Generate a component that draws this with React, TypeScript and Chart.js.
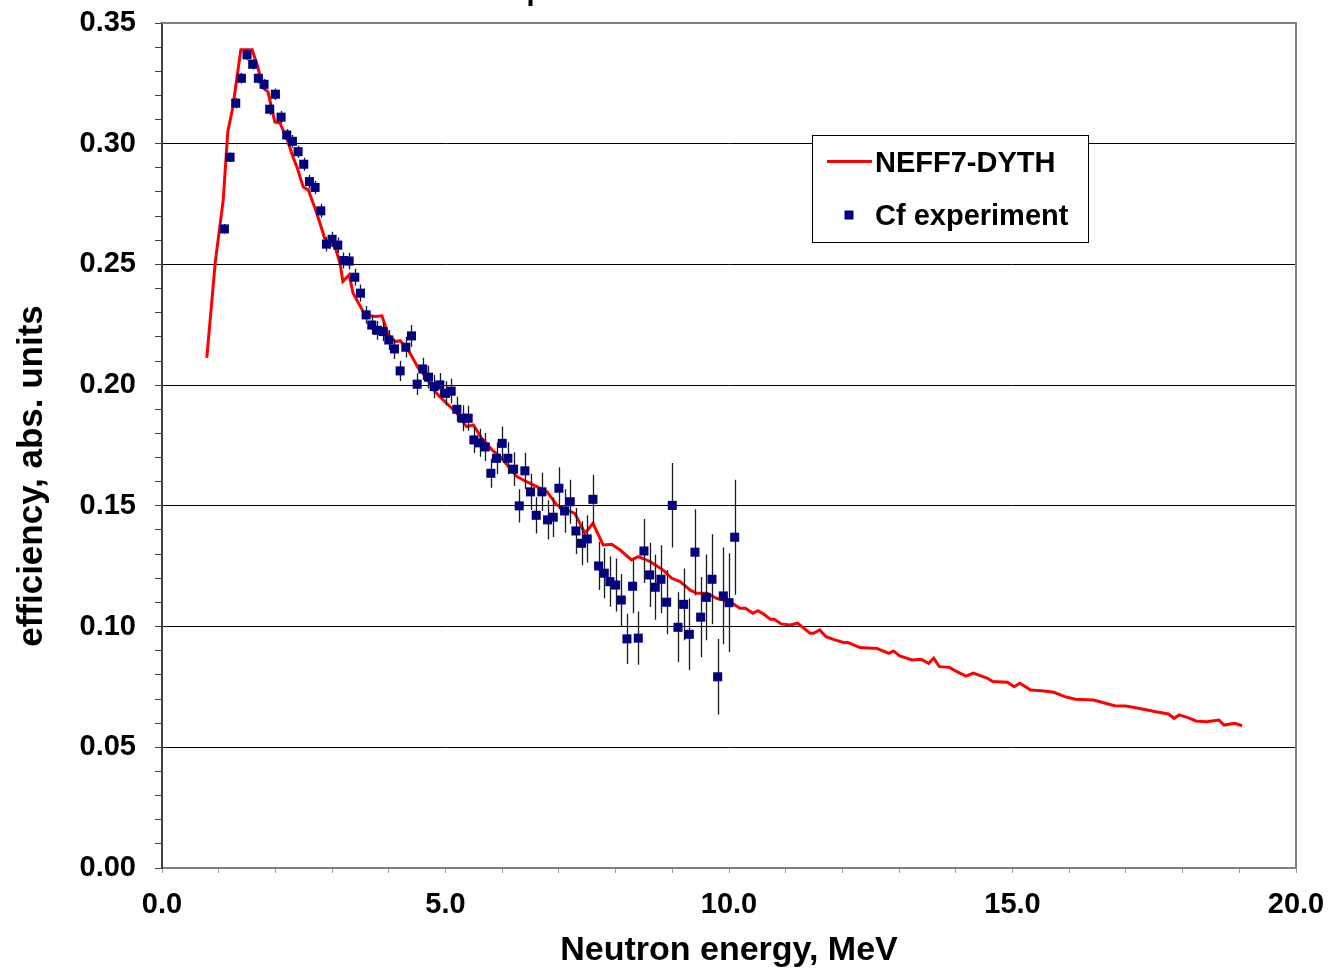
import React, { useEffect, useRef } from "react";
import { Chart, registerables } from "chart.js";

Chart.register(...registerables);

const FONT = '"Liberation Sans", Arial, Helvetica, sans-serif';
const TITLE = "Experiment and calculation";
const X_TITLE = "Neutron energy, MeV";
const Y_TITLE = "efficiency, abs. units";
const CALC_LABEL = "NEFF7-DYTH";
const EXP_LABEL = "Cf experiment";

// NEFF7-DYTH calculation (MeV, efficiency)
const calcEnergy = [
  0.79, 0.94, 1.08, 1.16, 1.25, 1.39, 1.59, 1.69, 1.78, 1.87,
  1.99, 2.08, 2.21, 2.31, 2.38, 2.49, 2.58, 2.73, 2.88, 2.99,
  3.05, 3.14, 3.19, 3.30, 3.37, 3.58, 3.76, 3.88, 3.99, 4.11,
  4.20, 4.34, 4.52, 4.67, 4.79, 4.90, 5.20, 5.37, 5.49, 5.64,
  5.82, 5.96, 6.26, 6.43, 6.61, 6.79, 6.96, 7.08, 7.28, 7.46,
  7.60, 7.78, 7.93, 8.08, 8.28, 8.40, 8.61, 8.84, 8.99, 9.14,
  9.31, 9.43, 9.61, 9.78, 10.02, 10.19, 10.29, 10.42, 10.51, 10.61,
  10.73, 10.80, 10.92, 11.08, 11.21, 11.43, 11.49, 11.60, 11.71, 11.84,
  12.03, 12.09, 12.31, 12.53, 12.60, 12.82, 12.90, 13.01, 13.23, 13.39,
  13.52, 13.61, 13.71, 13.89, 14.02, 14.18, 14.31, 14.56, 14.65, 14.91,
  15.03, 15.13, 15.32, 15.51, 15.73, 15.92, 16.11, 16.43, 16.80, 17.00,
  17.22, 17.53, 17.75, 17.85, 17.94, 18.13, 18.23, 18.42, 18.64, 18.73,
  18.92, 19.05,
];
const calcEff = [
  0.2113, 0.2510, 0.2767, 0.3049, 0.3152, 0.3389, 0.3389, 0.3318, 0.3231, 0.3215,
  0.3090, 0.3086, 0.3016, 0.2945, 0.2904, 0.2821, 0.2809, 0.2712, 0.2601, 0.2581,
  0.2574, 0.2505, 0.2429, 0.2457, 0.2381, 0.2291, 0.2284, 0.2287, 0.2208, 0.2180,
  0.2184, 0.2146, 0.2070, 0.2029, 0.1980, 0.1952, 0.1884, 0.1828, 0.1835, 0.1780,
  0.1732, 0.1704, 0.1621, 0.1600, 0.1580, 0.1559, 0.1504, 0.1490, 0.1469, 0.1387,
  0.1428, 0.1338, 0.1341, 0.1317, 0.1276, 0.1290, 0.1269, 0.1234, 0.1200, 0.1186,
  0.1152, 0.1138, 0.1138, 0.1117, 0.1103, 0.1076, 0.1076, 0.1055, 0.1066, 0.1052,
  0.1030, 0.1030, 0.1011, 0.1007, 0.1014, 0.0972, 0.0972, 0.0986, 0.0958, 0.0947,
  0.0933, 0.0935, 0.0913, 0.0910, 0.0910, 0.0889, 0.0899, 0.0878, 0.0862, 0.0865,
  0.0848, 0.0869, 0.0834, 0.0831, 0.0813, 0.0795, 0.0807, 0.0786, 0.0772, 0.0769,
  0.0751, 0.0765, 0.0737, 0.0734, 0.0728, 0.0710, 0.0699, 0.0696, 0.0672, 0.0671,
  0.0662, 0.0647, 0.0638, 0.0620, 0.0634, 0.0620, 0.0609, 0.0606, 0.0613, 0.0592,
  0.0599, 0.0589,
];

// Cf experiment (MeV, efficiency, error)
const expEnergy = [
  1.1, 1.2, 1.3, 1.4, 1.5, 1.6, 1.7, 1.8, 1.9, 2.0,
  2.1, 2.2, 2.3, 2.4, 2.5, 2.6, 2.7, 2.8, 2.9, 3.0,
  3.1, 3.2, 3.3, 3.4, 3.5, 3.6, 3.7, 3.8, 3.9, 4.0,
  4.1, 4.2, 4.3, 4.4, 4.5, 4.6, 4.7, 4.8, 4.9, 5.0,
  5.1, 5.2, 5.3, 5.4, 5.5, 5.6, 5.7, 5.8, 5.9, 6.0,
  6.1, 6.2, 6.3, 6.4, 6.5, 6.6, 6.7, 6.8, 6.9, 7.0,
  7.1, 7.2, 7.3, 7.4, 7.5, 7.6, 7.7, 7.8, 7.9, 8.0,
  8.1, 8.2, 8.3, 8.4, 8.5, 8.6, 8.7, 8.8, 8.9, 9.0,
  9.1, 9.2, 9.3, 9.4, 9.5, 9.6, 9.7, 9.8, 9.9, 10.0,
  10.1,
];
const expEff = [
  0.2647, 0.2944, 0.3168, 0.3271, 0.3368, 0.3329, 0.3271, 0.3246, 0.3143, 0.3205,
  0.3110, 0.3036, 0.3010, 0.2967, 0.2915, 0.2843, 0.2819, 0.2722, 0.2584, 0.2604,
  0.2580, 0.2516, 0.2514, 0.2447, 0.2381, 0.2291, 0.2249, 0.2227, 0.2222, 0.2187,
  0.2150, 0.2059, 0.2157, 0.2204, 0.2004, 0.2067, 0.2033, 0.1994, 0.2001, 0.1966,
  0.1975, 0.1900, 0.1863, 0.1863, 0.1773, 0.1761, 0.1744, 0.1635, 0.1697, 0.1759,
  0.1697, 0.1652, 0.1500, 0.1645, 0.1558, 0.1461, 0.1558, 0.1442, 0.1453, 0.1573,
  0.1479, 0.1517, 0.1396, 0.1345, 0.1363, 0.1527, 0.1251, 0.1221, 0.1186, 0.1172,
  0.1110, 0.0949, 0.1167, 0.0952, 0.1313, 0.1214, 0.1163, 0.1196, 0.1101, 0.1502,
  0.0997, 0.1092, 0.0968, 0.1308, 0.1039, 0.1121, 0.1196, 0.0792, 0.1127, 0.1099,
  0.1370,
];
const expErr = [
  0.0020, 0.0020, 0.0022, 0.0022, 0.0022, 0.0022, 0.0022, 0.0022, 0.0024, 0.0024,
  0.0025, 0.0025, 0.0026, 0.0026, 0.0027, 0.0028, 0.0028, 0.0029, 0.0030, 0.0031,
  0.0032, 0.0033, 0.0034, 0.0035, 0.0036, 0.0037, 0.0038, 0.0039, 0.0040, 0.0041,
  0.0042, 0.0042, 0.0043, 0.0045, 0.0045, 0.0046, 0.0047, 0.0048, 0.0049, 0.0050,
  0.0051, 0.0052, 0.0054, 0.0052, 0.0054, 0.0058, 0.0058, 0.0060, 0.0065, 0.0070,
  0.0066, 0.0070, 0.0069, 0.0075, 0.0075, 0.0075, 0.0079, 0.0081, 0.0082, 0.0087,
  0.0090, 0.0091, 0.0095, 0.0091, 0.0098, 0.0102, 0.0100, 0.0104, 0.0104, 0.0110,
  0.0108, 0.0104, 0.0112, 0.0110, 0.0133, 0.0133, 0.0135, 0.0141, 0.0133, 0.0175,
  0.0145, 0.0149, 0.0149, 0.0178, 0.0166, 0.0178, 0.0186, 0.0157, 0.0200, 0.0205,
  0.0238,
];

const X_MIN = 0;
const X_MAX = 20;
const X_STEP = 1;
const X_LABEL_EVERY = 5;
const Y_MIN = 0;
const Y_MAX = 0.35;
const Y_STEP = 0.01;
const Y_LABEL_EVERY = 0.05;

const isMultiple = (v: number, m: number) => Math.abs(v / m - Math.round(v / m)) < 1e-6;

const zeroPadding = (s: any) => {
  s.paddingTop = 0;
  s.paddingBottom = 0;
  s.paddingLeft = 0;
  s.paddingRight = 0;
};

export default function App() {
  const ref = useRef<HTMLCanvasElement>(null);

  useEffect(() => {
    const canvas = ref.current;
    if (!canvas) return;

    const calcData = calcEnergy.map((x, i) => ({ x, y: calcEff[i] }));
    const expData = expEnergy.map((x, i) => ({ x, y: expEff[i] }));

    const errorBars = {
      id: "errorBars",
      beforeDatasetDraw(chart: any, args: any) {
        if (args.index !== 1) return;
        const { ctx } = chart;
        const xs = chart.scales.x;
        const ys = chart.scales.y;
        ctx.save();
        ctx.strokeStyle = "#1a1a1a";
        ctx.lineWidth = 1.3;
        ctx.beginPath();
        expEnergy.forEach((e, i) => {
          const px = Math.round(xs.getPixelForValue(e)) + 0.5;
          ctx.moveTo(px, ys.getPixelForValue(expEff[i] + expErr[i]));
          ctx.lineTo(px, ys.getPixelForValue(expEff[i] - expErr[i]));
        });
        ctx.stroke();
        ctx.restore();
      },
    };

    const decor = {
      id: "decor",
      afterDraw(chart: any) {
        const { ctx } = chart;
        const { left, right, top, bottom } = chart.chartArea;
        ctx.save();
        // top and right frame
        ctx.strokeStyle = "#808080";
        ctx.lineWidth = 2;
        ctx.beginPath();
        ctx.moveTo(left, top);
        ctx.lineTo(right, top);
        ctx.lineTo(right, bottom);
        ctx.stroke();

        // axis titles
        ctx.fillStyle = "#000";
        ctx.textAlign = "center";
        ctx.textBaseline = "alphabetic";
        ctx.font = `bold 34px ${FONT}`;
        ctx.fillText(X_TITLE, (left + right) / 2, 960);
        ctx.save();
        ctx.translate(42, 476);
        ctx.rotate(-Math.PI / 2);
        ctx.font = `bold 35px ${FONT}`;
        ctx.fillText(Y_TITLE, 0, 0);
        ctx.restore();

        // clipped chart title
        ctx.font = `bold 29px ${FONT}`;
        ctx.textAlign = "left";
        ctx.fillText(TITLE, 491, -0.5);

        // legend
        const ds = chart.data.datasets;
        ctx.fillStyle = "#fff";
        ctx.fillRect(812, 135, 276, 107);
        ctx.strokeStyle = "#000";
        ctx.lineWidth = 1;
        ctx.strokeRect(812.5, 135.5, 276, 107);
        ctx.strokeStyle = ds[0].borderColor;
        ctx.lineWidth = 3;
        ctx.beginPath();
        ctx.moveTo(827, 161.5);
        ctx.lineTo(872, 161.5);
        ctx.stroke();
        ctx.fillStyle = ds[1].backgroundColor;
        ctx.fillRect(844.5, 210.5, 9, 9);
        ctx.fillStyle = "#000";
        ctx.font = `bold 29px ${FONT}`;
        ctx.textAlign = "left";
        ctx.fillText(ds[0].label, 875, 171.5);
        ctx.fillText(ds[1].label, 875, 225);
        ctx.restore();
      },
    };

    const tickFont = { family: FONT, size: 29, weight: "bold" as const };

    const chart = new Chart(canvas, {
      type: "scatter",
      data: {
        datasets: [
          {
            label: CALC_LABEL,
            data: calcData,
            showLine: true,
            borderColor: "#ff0000",
            backgroundColor: "#ff0000",
            borderWidth: 3,
            pointRadius: 0,
            tension: 0,
            order: 2,
          },
          {
            label: EXP_LABEL,
            data: expData,
            showLine: false,
            pointStyle: "rect",
            pointRadius: 6.4,
            borderWidth: 0,
            backgroundColor: "#000080",
            borderColor: "#000080",
            order: 1,
          },
        ],
      },
      options: {
        responsive: false,
        animation: false,
        layout: { padding: { left: 0, top: 23, right: 34, bottom: 0 } },
        plugins: {
          legend: { display: false },
          tooltip: { enabled: false },
          title: { display: false },
        },
        scales: {
          x: {
            type: "linear",
            min: X_MIN,
            max: X_MAX,
            afterFit: (s: any) => {
              s.height = 102;
              zeroPadding(s);
            },
            border: { display: true, color: "#808080", width: 2 },
            grid: {
              display: true,
              drawOnChartArea: false,
              drawTicks: true,
              tickLength: 5,
              tickColor: "#999999",
              tickWidth: 1,
            },
            ticks: {
              stepSize: X_STEP,
              autoSkip: false,
              maxRotation: 0,
              minRotation: 0,
              padding: 15,
              color: "#000",
              font: tickFont,
              callback: (v: any) => (isMultiple(Number(v), X_LABEL_EVERY) ? Number(v).toFixed(1) : ""),
            },
          },
          y: {
            type: "linear",
            min: Y_MIN,
            max: Y_MAX,
            afterFit: (s: any) => {
              s.width = 162;
              zeroPadding(s);
            },
            border: { display: true, color: "#404040", width: 2 },
            grid: {
              display: true,
              drawOnChartArea: true,
              drawTicks: true,
              tickLength: 7,
              tickWidth: 1,
              tickColor: "#404040",
              lineWidth: 1,
              color: (c: any) => {
                const v = c.tick ? c.tick.value : 0;
                if (v <= Y_MIN + 1e-9 || v >= Y_MAX - 1e-9) return "rgba(0,0,0,0)";
                return isMultiple(v, Y_LABEL_EVERY) ? "#000" : "rgba(0,0,0,0)";
              },
            },
            ticks: {
              stepSize: Y_STEP,
              autoSkip: false,
              padding: 19,
              color: "#000",
              font: tickFont,
              callback: (v: any) => (isMultiple(Number(v), Y_LABEL_EVERY) ? Number(v).toFixed(2) : ""),
            },
          },
        },
      },
      plugins: [errorBars, decor],
    });

    return () => chart.destroy();
  }, []);

  return (
    <div style={{ position: "absolute", left: 0, top: 0, width: 1330, height: 970, background: "#fff" }}>
      <canvas ref={ref} width={1330} height={970} style={{ display: "block" }} />
    </div>
  );
}
